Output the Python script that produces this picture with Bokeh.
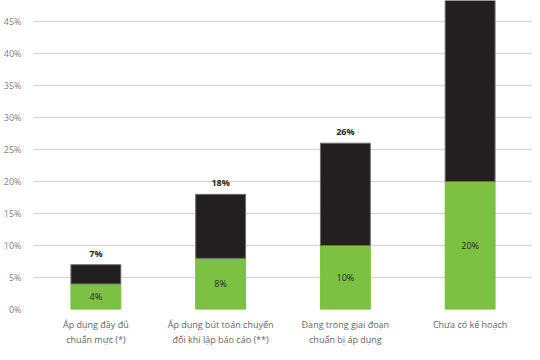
from bokeh.plotting import figure
from bokeh.models import ColumnDataSource, FixedTicker, NumeralTickFormatter, LabelSet
from bokeh.embed import file_html
from bokeh.resources import INLINE
from bokeh.core.properties import value

categories = ["Áp dụng đầy đủ\nchuẩn mực (*)",
              "Áp dụng bút toán chuyển\nđổi khi lập báo cáo (**)",
              "Đang trong giai đoạn\nchuẩn bị áp dụng",
              "Chưa có kế hoạch"]
green_vals = [0.04, 0.08, 0.10, 0.20]
total_vals = [0.07, 0.18, 0.26, 0.49]
green_labels = ["4%", "8%", "10%", "20%"]
# the last total label lies above the visible area in the reference
total_labels = ["7%", "18%", "26%", ""]
y_ticks = [0, 0.05, 0.10, 0.15, 0.20, 0.25, 0.30, 0.35, 0.40, 0.45]

black_vals = [t - g for t, g in zip(total_vals, green_vals)]
src = ColumnDataSource(dict(
    cat=categories, green=green_vals, black=black_vals, total=total_vals,
    gmid=[g / 2 for g in green_vals], glab=green_labels, tlab=total_labels,
))

p = figure(x_range=categories, y_range=(0, 0.483), width=532, height=349,
           output_backend="svg", toolbar_location=None,
           min_border_left=26, min_border_right=0, min_border_top=0, min_border_bottom=0)
p.outline_line_color = None
p.background_fill_color = "white"

p.vbar_stack(["green", "black"], x="cat", width=0.4, source=src,
             color=["#7DC142", "#231F20"], line_color=["#7DC142", "#6e6e6e"], line_width=1)

font = value("Open Sans")
p.add_layout(LabelSet(x="cat", y="gmid", text="glab", source=src, text_align="center",
                      text_baseline="middle", text_font_size="9px", text_color="#262626",
                      text_font=font))
p.add_layout(LabelSet(x="cat", y="total", text="tlab", source=src, text_align="center",
                      text_baseline="bottom", y_offset=5, text_font_size="9px",
                      text_font_style="bold", text_color="#262626", text_font=font))

p.xgrid.grid_line_color = None
p.ygrid.grid_line_color = "#d9d9d9"
p.ygrid.grid_line_width = 1.5
p.yaxis.ticker = FixedTicker(ticks=y_ticks)
p.yaxis.formatter = NumeralTickFormatter(format="0%")
p.yaxis.axis_line_color = None
p.yaxis.major_tick_line_color = None
p.yaxis.minor_tick_line_color = None
p.yaxis.major_label_text_font_size = "9px"
p.yaxis.major_label_text_color = "#7f7f7f"
p.yaxis.major_label_text_font = "Open Sans"
p.yaxis.major_label_standoff = 6

p.xaxis.axis_line_color = None
p.xaxis.major_tick_line_color = None
p.xaxis.major_label_text_font_size = "9px"
p.xaxis.major_label_text_color = "#666666"
p.xaxis.major_label_text_font = "Open Sans"
p.xaxis.major_label_standoff = 2

open("out.html", "w").write(file_html(p, INLINE))
